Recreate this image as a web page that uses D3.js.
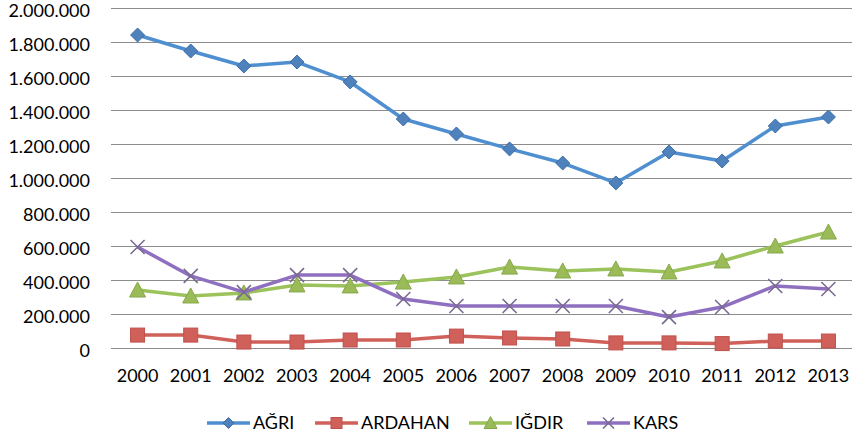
<!DOCTYPE html>
<html lang="tr">
<head>
<meta charset="UTF-8">
<title>Line chart</title>
<script src="https://d3js.org/d3.v7.min.js"></script>
<style>
  body { margin: 0; background: #fff; }
  text { font-family: Lato, "Noto Sans", sans-serif; fill: #000; }
</style>
</head>
<body>
<div class="chart"></div>
<script>
  const years = ['2000','2001','2002','2003','2004','2005','2006','2007','2008','2009','2010','2011','2012','2013'];
  const agri    = [1841000,1747000,1659000,1682000,1565000,1347000,1259000,1171000,1088000,971000,1153000,1100000,1306000,1359000];
  const ardahan = [76000,76000,35000,35000,47000,47000,70000,59000,53000,30000,30000,26000,41000,41000];
  const igdir   = [341000,306000,324000,371000,365000,388000,418000,476000,453000,465000,447000,512000,600000,682000];
  const kars    = [594000,424000,329000,429000,429000,288000,247000,247000,247000,247000,182000,241000,365000,347000];
  const yTicks  = [0,200000,400000,600000,800000,1000000,1200000,1400000,1600000,1800000,2000000];

  const series = [
    {name:'AĞRI',    values: agri,    line:'#4f8fd0', fill:'#4f81bd', stroke:'#3d6ea3', shape:'diamond'},
    {name:'ARDAHAN', values: ardahan, line:'#d0605a', fill:'#d0605a', stroke:'#c0504d', shape:'square'},
    {name:'IĞDIR',   values: igdir,   line:'#9bc25b', fill:'#9bbb59', stroke:'#86a84a', shape:'triangle'},
    {name:'KARS',    values: kars,    line:'#8f6fbf', fill:'none',    stroke:'#7a6a92', shape:'x'}
  ];

  const W = 852, H = 438;
  const svg = d3.select('.chart').append('svg').attr('width', W).attr('height', H);

  const x = d3.scaleBand().domain(years).range([111, 855]);
  const y = d3.scaleLinear().domain([0, 2000000]).range([348, 8]);
  const fmt = v => d3.format(',')(v).replace(/,/g, '.');

  // gridlines
  svg.append('g').selectAll('line').data(yTicks).join('line')
    .attr('x1', 111).attr('x2', W)
    .attr('y1', d => Math.round(y(d)) + 0.5).attr('y2', d => Math.round(y(d)) + 0.5)
    .attr('stroke', '#8c8c8c').attr('stroke-width', 1.2);

  // y labels
  svg.append('g').selectAll('text').data(yTicks).join('text')
    .attr('x', 90).attr('y', d => y(d) + 3).attr('dy', '0.35em')
    .attr('text-anchor', 'end').style('font-size', '18px')
    .text(d => fmt(d));

  // x labels
  svg.append('g').selectAll('text').data(years).join('text')
    .attr('x', d => x(d) + x.bandwidth() / 2).attr('y', 376).attr('dy', '0.35em')
    .attr('text-anchor', 'middle').style('font-size', '18px')
    .text(d => d);

  const cx = i => x(years[i]) + x.bandwidth() / 2;

  function marker(g, shape, s, fill, stroke) {
    if (shape === 'diamond') {
      g.append('path').attr('d', `M0,${-s}L${s},0L0,${s}L${-s},0Z`)
        .attr('fill', fill).attr('stroke', stroke).attr('stroke-width', 1);
    } else if (shape === 'square') {
      g.append('rect').attr('x', -s).attr('y', -s).attr('width', 2 * s).attr('height', 2 * s)
        .attr('fill', fill).attr('stroke', stroke).attr('stroke-width', 1);
    } else if (shape === 'triangle') {
      g.append('path').attr('d', `M0,${-s - 1}L${s + 1},${s}L${-s - 1},${s}Z`)
        .attr('fill', fill).attr('stroke', stroke).attr('stroke-width', 1);
    } else {
      g.append('path').attr('d', `M${-s},${-s}L${s},${s}M${s},${-s}L${-s},${s}`)
        .attr('stroke', stroke).attr('stroke-width', 1.6).attr('fill', 'none');
    }
  }

  const line = d3.line().x((d, i) => cx(i)).y(d => y(d));

  series.forEach(s => {
    svg.append('path').attr('d', line(s.values))
      .attr('fill', 'none').attr('stroke', s.line).attr('stroke-width', 3.5)
      .attr('stroke-linejoin', 'round');
    s.values.forEach((v, i) => {
      const g = svg.append('g').attr('transform', `translate(${cx(i)},${y(v)})`);
      marker(g, s.shape, 7, s.fill, s.stroke);
    });
  });

  // legend
  const legX = [207, 315, 469, 587];
  series.forEach((s, i) => {
    const g = svg.append('g').attr('transform', `translate(${legX[i]},423)`);
    g.append('line').attr('x1', 0).attr('x2', 43).attr('stroke', s.line).attr('stroke-width', 3.5);
    const m = g.append('g').attr('transform', 'translate(21.5,0)');
    marker(m, s.shape, 5.5, s.fill, s.stroke);
    g.append('text').attr('x', 46).attr('dy', '0.35em').style('font-size', '18px').text(s.name);
  });
</script>
</body>
</html>
